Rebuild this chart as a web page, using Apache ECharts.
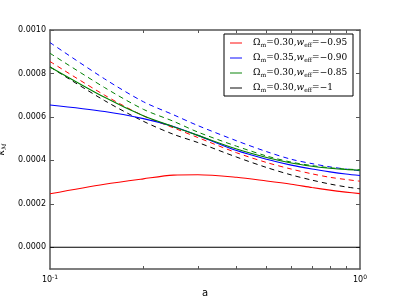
<!DOCTYPE html>
<html><head><meta charset="utf-8">
<script src="https://cdn.jsdelivr.net/npm/echarts@6/dist/echarts.min.js"></script>
<style>html,body{margin:0;padding:0;background:#fff}#c{width:400px;height:300px}</style>
</head><body><div id="c"></div>
<script>
// scale factor a
const aValues = [0.1, 0.15, 0.2, 0.25, 0.3, 0.4, 0.5, 0.6, 0.7, 0.8, 0.9, 1.0];
// solid curves
const redSolid   = [0.000246, 0.000290, 0.000315, 0.000332, 0.000334, 0.000322, 0.000305, 0.000290, 0.000275, 0.000263, 0.000254, 0.000247];
const blueSolid  = [0.000655, 0.000625, 0.000592, 0.000556, 0.000515, 0.000445, 0.000405, 0.000378, 0.000360, 0.000347, 0.000337, 0.000330];
const greenSolid = [0.000830, 0.000690, 0.000605, 0.000555, 0.000515, 0.000452, 0.000413, 0.000388, 0.000373, 0.000364, 0.000358, 0.000355];
const blackSolid = [0, 0, 0, 0, 0, 0, 0, 0, 0, 0, 0, 0];
// dashed curves
const redDashed   = [0.000855, 0.000700, 0.000605, 0.000550, 0.000505, 0.000435, 0.000390, 0.000360, 0.000338, 0.000322, 0.000312, 0.000304];
const blueDashed  = [0.000942, 0.000775, 0.000670, 0.000610, 0.000560, 0.000490, 0.000440, 0.000405, 0.000385, 0.000370, 0.000360, 0.000352];
const greenDashed = [0.000893, 0.000735, 0.000635, 0.000580, 0.000530, 0.000465, 0.000420, 0.000392, 0.000376, 0.000366, 0.000360, 0.000357];
const blackDashed = [0.000830, 0.000675, 0.000580, 0.000520, 0.000482, 0.000415, 0.000367, 0.000333, 0.000309, 0.000291, 0.000278, 0.000269];
// ticks
const yTicks = [0, 0.0002, 0.0004, 0.0006, 0.0008, 0.0010];
const xMajorTicks = [0.1, 1];
const xMinorTicks = [0.2, 0.3, 0.4, 0.5, 0.6, 0.7, 0.8, 0.9];
const legendNames = ['L0', 'L1', 'L2', 'L3'];
const legendColors = ['#ff0000', '#0000ff', '#008000', '#000000'];
const legendOm = ['0.30', '0.35', '0.30', '0.30'];
const legendW = ['\u22120.95', '\u22120.90', '\u22120.85', '\u22121'];

const pair = arr => aValues.map((a, i) => [a, arr[i]]);

function line(name, data, color, dashed) {
  return {
    name: name, type: 'line', data: pair(data), smooth: 0.3, symbol: 'none',
    xAxisIndex: 0, yAxisIndex: 0,
    lineStyle: {color: color, width: dashed ? 1 : 1.1, type: dashed ? [5, 4] : 'solid'},
    itemStyle: {color: color}, z: dashed ? 3 : 4, emphasis: {disabled: true}
  };
}
// empty series that only carry the legend keys
function legendKey(name, color) {
  return {name: name, type: 'scatter', data: [], itemStyle: {color: color}, silent: true};
}

const serif = 'DejaVu Serif';
const sans = 'DejaVu Sans';
const chart = echarts.init(document.getElementById('c'), null, {renderer: 'canvas'});
const axisCol = '#555';
const blackLine = line('Sblack', blackSolid, legendColors[3], false);
blackLine.smooth = false;
chart.setOption({
  animation: false,
  grid: {left: 50, right: 40, top: 30, bottom: 31, containLabel: false, outerBoundsMode: 'none'},
  legend: {
    data: legendNames,
    icon: 'rect',
    orient: 'vertical', left: 224, top: 34,
    backgroundColor: '#fff', borderColor: '#000', borderWidth: 1, borderRadius: 0,
    padding: [4, 3, 3, 6], itemGap: 5, itemWidth: 12, itemHeight: 1.2,
    selectedMode: false,
    formatter: function (n) {
      const i = legendNames.indexOf(n);
      return '{g|}{t|\u03A9}{s|m}{t|=' + legendOm[i] + ',}{i|w}{s|eff}{t|=' + legendW[i] + '}';
    },
    textStyle: {
      fontFamily: serif, fontSize: 9, color: '#000', lineHeight: 10, width: 103, overflow: 'none',
      rich: {
        g: {width: 6},
        t: {fontFamily: serif, fontSize: 9, color: '#000'},
        i: {fontFamily: serif, fontSize: 9, fontStyle: 'italic', color: '#000'},
        s: {fontFamily: serif, fontSize: 6, color: '#000', padding: [4, 0, 0, 0]}
      }
    }
  },
  xAxis: [{
    type: 'log', logBase: 10, min: 0.1, max: 1, position: 'bottom',
    name: 'a', nameLocation: 'middle', nameGap: 12,
    nameTextStyle: {fontFamily: sans, fontSize: 10, color: '#000'},
    axisLine: {onZero: false, lineStyle: {color: axisCol, width: 1.5}},
    axisTick: {show: true, inside: true, length: 3, customValues: xMinorTicks, lineStyle: {color: axisCol}},
    axisLabel: {
      customValues: xMajorTicks, margin: 5,
      formatter: v => v < 0.5 ? '{b|10}{p|-1}' : '{b|10}{p|0}',
      rich: {
        b: {fontFamily: sans, fontSize: 8, color: '#000'},
        p: {fontFamily: sans, fontSize: 6, color: '#000', padding: [0, 0, 5, 0]}
      }
    },
    splitLine: {show: false}
  }, {
    type: 'log', logBase: 10, min: 0.1, max: 1, position: 'top',
    axisLine: {onZero: false, lineStyle: {color: axisCol, width: 1.5}},
    axisTick: {show: true, inside: true, length: 3, customValues: xMinorTicks, lineStyle: {color: axisCol}},
    axisLabel: {show: false}, splitLine: {show: false}
  }],
  yAxis: [{
    type: 'value', min: -0.0001, max: 0.001, position: 'left',
    name: '{k|k}{s|M}', nameLocation: 'middle', nameGap: 38, nameRotate: 90,
    nameTextStyle: {rich: {
      k: {fontFamily: serif, fontSize: 9, fontStyle: 'italic', color: '#000'},
      s: {fontFamily: serif, fontSize: 6, fontStyle: 'italic', color: '#000', padding: [4, 0, 0, 0]}
    }},
    axisLine: {onZero: false, lineStyle: {color: axisCol, width: 1.5}},
    axisTick: {show: true, inside: true, length: 4, customValues: yTicks, lineStyle: {color: axisCol}},
    axisLabel: {customValues: yTicks, margin: 4, fontFamily: sans, fontSize: 8, color: '#000',
      formatter: v => v.toFixed(4)},
    splitLine: {show: false}
  }, {
    type: 'value', min: -0.0001, max: 0.001, position: 'right',
    axisLine: {onZero: false, lineStyle: {color: axisCol, width: 1.5}},
    axisTick: {show: true, inside: true, length: 4, customValues: yTicks, lineStyle: {color: axisCol}},
    axisLabel: {show: false}, splitLine: {show: false}
  }],
  series: [
    line('Dred', redDashed, legendColors[0], true),
    line('Dblue', blueDashed, legendColors[1], true),
    line('Dgreen', greenDashed, legendColors[2], true),
    line('Dblack', blackDashed, legendColors[3], true),
    line('Sred', redSolid, legendColors[0], false),
    line('Sblue', blueSolid, legendColors[1], false),
    line('Sgreen', greenSolid, legendColors[2], false),
    blackLine,
    legendKey(legendNames[0], legendColors[0]),
    legendKey(legendNames[1], legendColors[1]),
    legendKey(legendNames[2], legendColors[2]),
    legendKey(legendNames[3], legendColors[3])
  ]
});
</script></body></html>
